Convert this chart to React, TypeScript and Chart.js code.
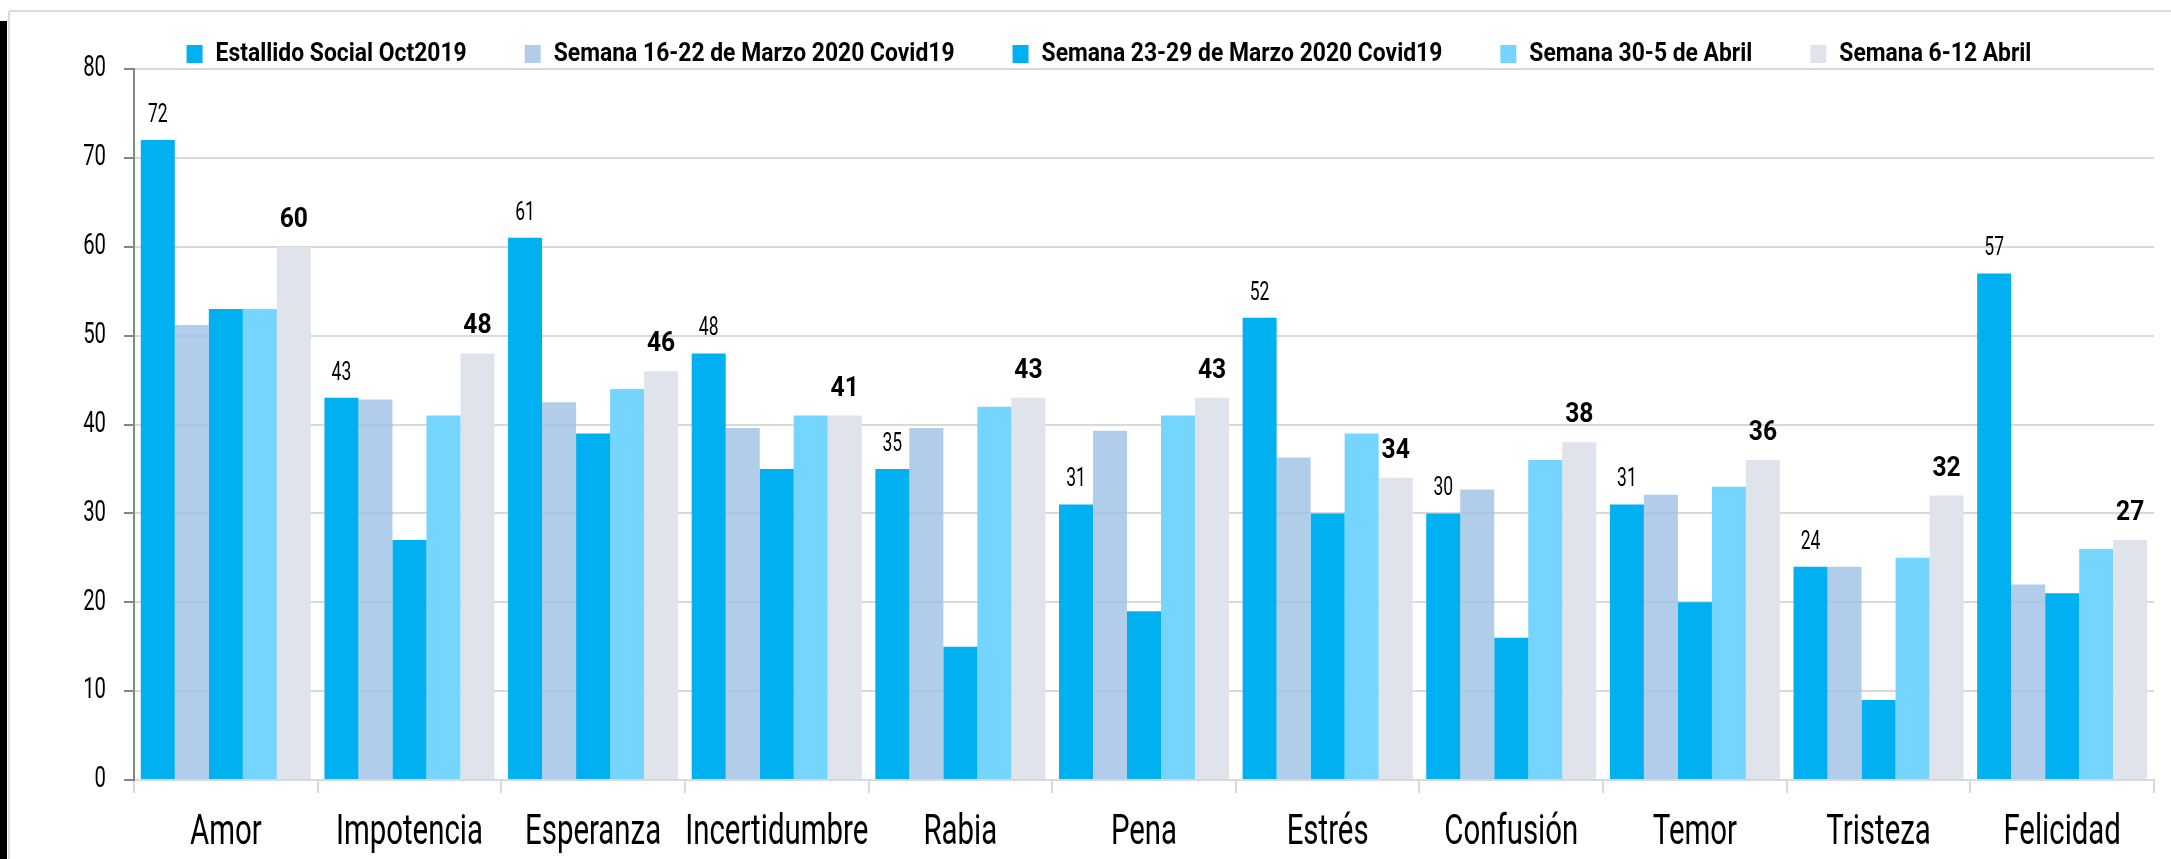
import React, { useEffect, useRef } from 'react';
import { Chart, registerables } from 'chart.js';

Chart.register(...registerables);

const FONT = "Roboto, 'Liberation Sans', sans-serif";

const categories = ['Amor', 'Impotencia', 'Esperanza', 'Incertidumbre', 'Rabia', 'Pena', 'Estrés', 'Confusión', 'Temor', 'Tristeza', 'Felicidad'];
const seriesNames = [
  'Estallido Social Oct2019',
  'Semana 16-22 de Marzo 2020 Covid19',
  'Semana 23-29 de Marzo 2020 Covid19',
  'Semana 30-5 de Abril',
  'Semana 6-12 Abril',
];
const estallidoOct2019 = [72, 43, 61, 48, 35, 31, 52, 30, 31, 24, 57];
const semana16a22Marzo = [51.2, 42.8, 42.5, 39.6, 39.6, 39.3, 36.3, 32.7, 32.1, 24, 22];
const semana23a29Marzo = [53, 27, 39, 35, 15, 19, 30, 16, 20, 9, 21];
const semana30a5Abril = [53, 41, 44, 41, 42, 41, 39, 36, 33, 25, 26];
const semana6a12Abril = [60, 48, 46, 41, 43, 43, 34, 38, 36, 32, 27];
const yMin = 0;
const yMax = 80;
const yStep = 10;

const seriesColors = ['#00B0F0', 'rgba(157,193,229,0.8)', '#00B0F0', '#75D5FE', '#DFE4EC'];

// condensed look: squeeze text horizontally (regular / bold)
const SQUEEZE_REGULAR = 0.7;
const SQUEEZE_BOLD = 0.88;

function condenseContext(ctx: any) {
  if (!ctx || ctx.__condensed) return;
  const origFill = ctx.fillText.bind(ctx);
  const origMeasure = ctx.measureText.bind(ctx);
  const factor = () => (/bold|[6-9]00/.test(ctx.font) ? SQUEEZE_BOLD : SQUEEZE_REGULAR);
  ctx.fillText = function (text: string, x: number, y: number, maxWidth?: number) {
    const sx = factor();
    ctx.save();
    ctx.translate(x, y);
    ctx.scale(sx, 1);
    if (maxWidth !== undefined) origFill(text, 0, 0, maxWidth / sx);
    else origFill(text, 0, 0);
    ctx.restore();
  };
  ctx.measureText = function (text: string) {
    const m = origMeasure(text);
    const sx = factor();
    return {
      width: m.width * sx,
      actualBoundingBoxLeft: m.actualBoundingBoxLeft * sx,
      actualBoundingBoxRight: m.actualBoundingBoxRight * sx,
      actualBoundingBoxAscent: m.actualBoundingBoxAscent,
      actualBoundingBoxDescent: m.actualBoundingBoxDescent,
      fontBoundingBoxAscent: m.fontBoundingBoxAscent,
      fontBoundingBoxDescent: m.fontBoundingBoxDescent,
    };
  };
  ctx.__condensed = true;
}

const legendFitPlugin = {
  id: 'legendFit',
  beforeLayout(chart: any) {
    const lg = chart.legend;
    if (lg && !lg.__patched) {
      const orig = lg.fit;
      lg.fit = function () {
        orig.call(this);
        this.height = 86;
      };
      lg.__patched = true;
    }
  },
};

const valueLabelsPlugin = {
  id: 'valueLabels',
  afterDatasetsDraw(chart: any) {
    const ctx = chart.ctx;
    ctx.save();
    ctx.textAlign = 'center';
    ctx.textBaseline = 'alphabetic';
    ctx.fillStyle = '#000000';
    const conf = [
      { i: 0, font: `normal 25px ${FONT}`, off: 18 },
      { i: 4, font: `bold 28px ${FONT}`, off: 20 },
    ];
    conf.forEach((c) => {
      const meta = chart.getDatasetMeta(c.i);
      const data = chart.data.datasets[c.i].data;
      ctx.font = c.font;
      meta.data.forEach((el: any, j: number) => {
        ctx.fillText(String(data[j]), el.x, el.y - c.off);
      });
    });
    ctx.restore();
  },
};

export default function App() {
  const ref = useRef<HTMLCanvasElement | null>(null);

  useEffect(() => {
    if (!ref.current) return;
    condenseContext(ref.current.getContext('2d'));
    const allData = [estallidoOct2019, semana16a22Marzo, semana23a29Marzo, semana30a5Abril, semana6a12Abril];
    const chart = new Chart(ref.current, {
      type: 'bar',
      data: {
        labels: categories,
        datasets: allData.map((d, i) => ({
          label: seriesNames[i],
          data: d,
          backgroundColor: seriesColors[i],
          borderWidth: 0,
          categoryPercentage: 0.926,
          barPercentage: 1,
        })),
      },
      options: {
        responsive: false,
        animation: false,
        devicePixelRatio: 1,
        layout: { padding: { top: -17, left: 64, right: 17, bottom: 0 } },
        plugins: {
          legend: {
            display: true,
            position: 'top',
            labels: {
              font: { family: FONT, size: 26, weight: 'bold' },
              color: '#000000',
              boxWidth: 16,
              boxHeight: 18,
              padding: 58,
            },
          },
          tooltip: { enabled: false },
        },
        scales: {
          x: {
            grid: {
              offset: true,
              drawOnChartArea: false,
              drawTicks: true,
              tickLength: 13,
              color: '#D9D9D9',
              lineWidth: 2,
            },
            border: { display: true, color: '#D9D9D9', width: 2 },
            ticks: {
              font: { family: FONT, size: 42 },
              color: '#000000',
              padding: 15,
              maxRotation: 0,
              autoSkip: false,
            },
            afterFit: (s: any) => {
              s.height = 79;
            },
          },
          y: {
            min: yMin,
            max: yMax,
            ticks: {
              stepSize: yStep,
              font: { family: FONT, size: 29 },
              color: '#000000',
              padding: 18,
            },
            grid: {
              color: '#D9D9D9',
              lineWidth: 2,
              tickColor: '#868686',
              tickLength: 10,
            },
            border: { display: true, color: '#868686', width: 2 },
            afterFit: (s: any) => {
              s.width = 70;
            },
          },
        },
      },
      plugins: [legendFitPlugin, valueLabelsPlugin],
    } as any);
    return () => chart.destroy();
  }, []);

  return (
    <div style={{ position: 'fixed', left: 0, top: 0, width: 2171, height: 859, overflow: 'hidden', background: '#ffffff' }}>
      <div style={{ position: 'absolute', left: 0, top: 21, width: 7, height: 838, background: '#000000' }} />
      <div
        style={{
          position: 'absolute',
          left: 8,
          top: 10,
          width: 2163,
          height: 849,
          borderTop: '2px solid #DADADA',
          borderLeft: '2px solid #DADADA',
          borderTopLeftRadius: 3,
          boxSizing: 'border-box',
        }}
      />
      <canvas ref={ref} width={2171} height={859} style={{ position: 'absolute', left: 0, top: 0, display: 'block' }} />
    </div>
  );
}
